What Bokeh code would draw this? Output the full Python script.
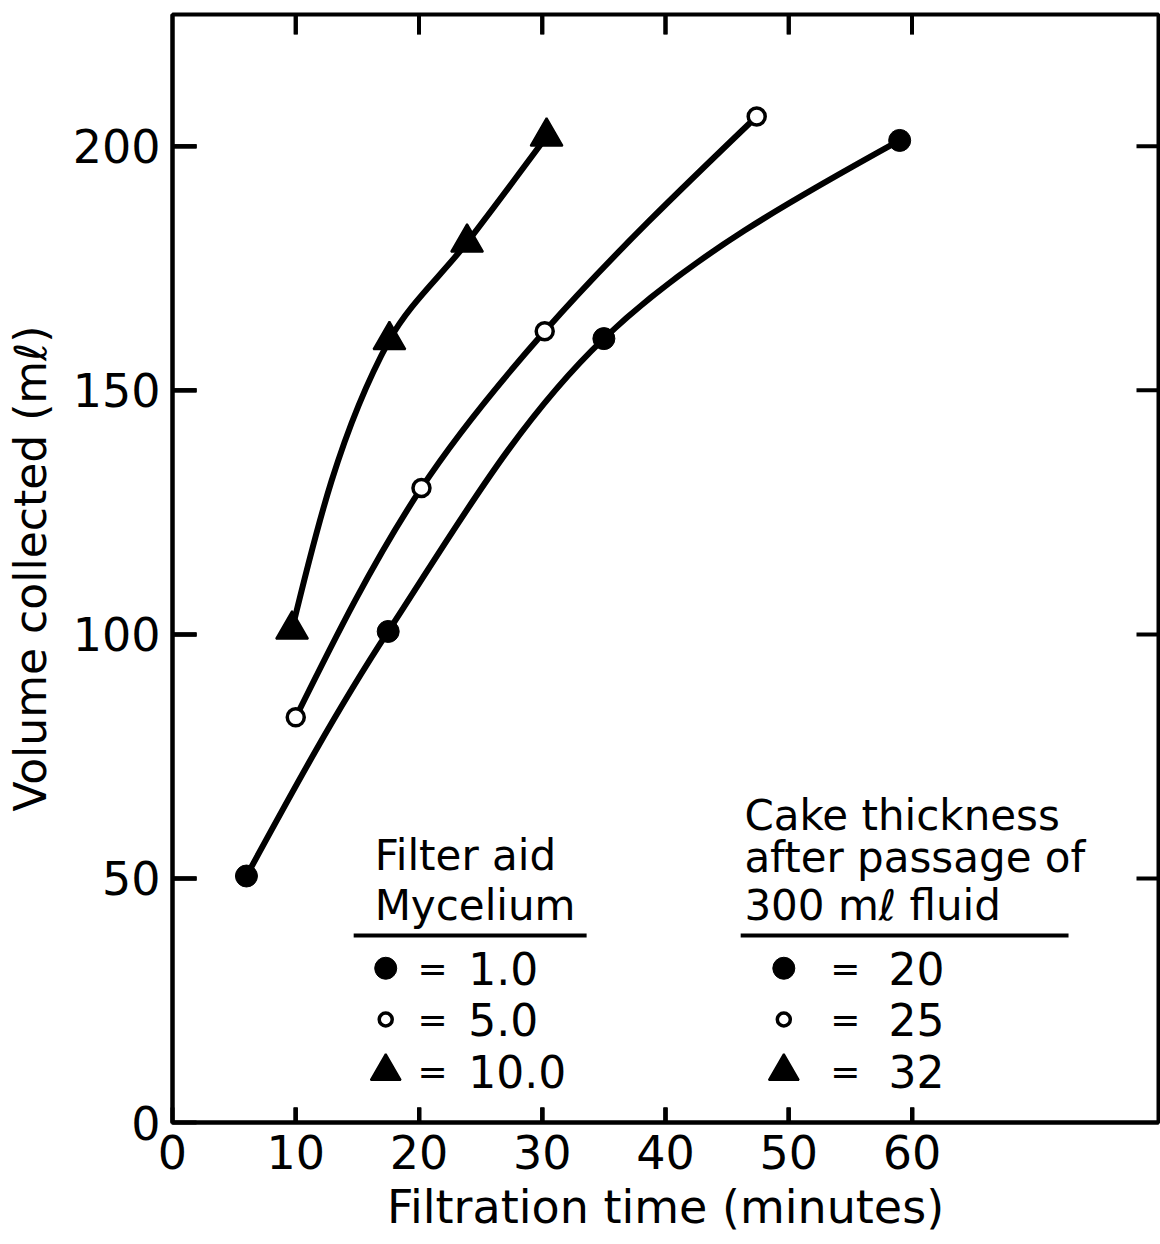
import math
from bokeh.plotting import figure
from bokeh.models import LinearAxis, FixedTicker, Range1d, ColumnDataSource
from bokeh.core.properties import value
from bokeh.embed import file_html
from bokeh.resources import INLINE

# ---------------- data ----------------
time_m1 = [6.0, 17.5, 35.0, 59.0]
vol_m1 = [50.5, 100.6, 160.6, 201.2]
time_m5 = [10.0, 20.2, 30.2, 47.4]
vol_m5 = [83.0, 130.0, 162.1, 206.1]
time_m10 = [9.7, 17.6, 23.9, 30.35]
vol_m10 = [101.0, 160.3, 180.3, 202.0]

x_ticks = [0, 10, 20, 30, 40, 50, 60]
y_ticks = [0, 50, 100, 150, 200]
inner_x_ticks = [10, 20, 30, 40, 50, 60]
inner_y_ticks = [50, 100, 150, 200]

left_title = ["Filter aid", "Mycelium"]
left_values = ["1.0", "5.0", "10.0"]
right_title = ["Cake thickness", "after passage of", "300 m\u2113 fluid"]
right_values = ["20", "25", "32"]

FONT = "DejaVu Sans"
X_MAX, Y_MAX = 80, 227
SX = 12.325  # approx. px per minute on screen
SY = 4.925   # approx. px per ml on screen

p = figure(width=1160, height=1236, x_range=Range1d(0, X_MAX), y_range=Range1d(0, Y_MAX),
           output_backend="svg", toolbar_location=None,
           x_axis_location=None, y_axis_location=None,
           min_border_left=172, min_border_top=14, min_border_bottom=104, min_border_right=2)
p.grid.visible = False
p.outline_line_color = "black"
p.outline_line_width = 4


def style_axis(ax, ticks, tick_in):
    ax.ticker = FixedTicker(ticks=ticks)
    ax.axis_line_width = 4
    ax.axis_line_color = "black"
    ax.major_tick_in = tick_in
    ax.major_tick_out = 1
    ax.major_tick_line_color = "black"
    ax.major_tick_line_width = 4
    ax.minor_tick_line_color = None
    ax.major_label_text_font = FONT
    ax.major_label_text_color = "black"
    ax.major_label_text_font_size = "46px"
    ax.major_label_standoff = 11
    ax.axis_label_text_font = FONT
    ax.axis_label_text_font_style = "normal"
    ax.axis_label_text_color = "black"


bottom = LinearAxis(axis_label="Filtration time (minutes)")
style_axis(bottom, x_ticks, 15)
bottom.axis_label_text_font_size = "46px"
bottom.axis_label_standoff = 8
p.add_layout(bottom, "below")

left = LinearAxis(axis_label="Volume collected (m\u2113)")
style_axis(left, y_ticks, 24)
left.axis_label_text_font_size = "44px"
left.axis_label_standoff = 14
p.add_layout(left, "left")

# inward ticks on all four frame edges, drawn as small filled bars (screen-sized)
nx, ny = len(inner_x_ticks), len(inner_y_ticks)
bar = dict(fill_color="black", line_color=None)
p.rect(x=inner_x_ticks, y=[Y_MAX - 10 / SY] * nx, width=4, height=20,
       width_units="screen", height_units="screen", **bar)
p.rect(x=inner_x_ticks, y=[7.5 / SY] * nx, width=4, height=15,
       width_units="screen", height_units="screen", **bar)
p.rect(x=[12 / SX] * ny, y=inner_y_ticks, width=24, height=4,
       width_units="screen", height_units="screen", **bar)
p.rect(x=[X_MAX - 11 / SX] * ny, y=inner_y_ticks, width=22, height=4,
       width_units="screen", height_units="screen", **bar)
# the same ticks as short lines as well
tick_style = dict(line_color="black", line_width=4)
p.multi_line(xs=[[t, t] for t in inner_x_ticks],
             ys=[[Y_MAX - 0.15, Y_MAX - 20 / SY] for t in inner_x_ticks], **tick_style)
p.multi_line(xs=[[t, t] for t in inner_x_ticks],
             ys=[[0.15, 15 / SY] for t in inner_x_ticks], **tick_style)
p.multi_line(xs=[[0.05, 24 / SX] for t in inner_y_ticks],
             ys=[[t, t] for t in inner_y_ticks], **tick_style)


def smooth_bezier(xs, ys):
    P = [(x * SX, y * SY) for x, y in zip(xs, ys)]
    n = len(P)

    def norm(v):
        l = math.hypot(v[0], v[1]) or 1.0
        return (v[0] / l, v[1] / l)

    L = [math.hypot(P[i + 1][0] - P[i][0], P[i + 1][1] - P[i][1]) for i in range(n - 1)]
    U = [norm((P[i + 1][0] - P[i][0], P[i + 1][1] - P[i][1])) for i in range(n - 1)]
    T = [None] * n
    for i in range(1, n - 1):
        T[i] = norm((U[i - 1][0] + U[i][0], U[i - 1][1] + U[i][1]))
    for end, u, t1 in [(0, U[0], T[1] if n > 2 else U[0]), (n - 1, U[-1], T[-2] if n > 2 else U[-1])]:
        d = u[0] * t1[0] + u[1] * t1[1]
        r = (2 * d * u[0] - t1[0], 2 * d * u[1] - t1[1])
        T[end] = norm((0.5 * (r[0] + u[0]), 0.5 * (r[1] + u[1])))

    src = dict(x0=[], y0=[], x1=[], y1=[], cx0=[], cy0=[], cx1=[], cy1=[])
    for i in range(n - 1):
        a, b = P[i], P[i + 1]
        h = L[i] / 3.0
        src["x0"].append(a[0] / SX); src["y0"].append(a[1] / SY)
        src["x1"].append(b[0] / SX); src["y1"].append(b[1] / SY)
        src["cx0"].append((a[0] + T[i][0] * h) / SX)
        src["cy0"].append((a[1] + T[i][1] * h) / SY)
        src["cx1"].append((b[0] - T[i + 1][0] * h) / SX)
        src["cy1"].append((b[1] - T[i + 1][1] * h) / SY)
    return ColumnDataSource(src)


for xs, ys in [(time_m1, vol_m1), (time_m5, vol_m5), (time_m10, vol_m10)]:
    p.bezier(x0="x0", y0="y0", x1="x1", y1="y1", cx0="cx0", cy0="cy0", cx1="cx1", cy1="cy1",
             source=smooth_bezier(xs, ys), line_color="black", line_width=6)

p.scatter(time_m1, vol_m1, marker="circle", size=22, fill_color="black", line_color="black")
p.scatter(time_m5, vol_m5, marker="circle", size=17, fill_color="white", line_color="black", line_width=3.5)
p.scatter(time_m10, vol_m10, marker="triangle", size=32, fill_color="black", line_color="black", line_width=2)

# ---------------- legend blocks (layout constants, data units) ----------------
row_y = [31.6, 21.1, 10.5]
for txt, yy in zip(left_title, [54.8, 44.4]):
    p.text(x=[16.4], y=[yy], text=[txt], text_font=value(FONT), text_font_size="42px",
           text_baseline="middle", text_align="left", text_color="black")
p.line([14.7, 33.6], [38.3, 38.3], line_color="black", line_width=4)
for txt, yy in zip(right_title, [62.9, 54.2, 44.4]):
    p.text(x=[46.4], y=[yy], text=[txt], text_font=value(FONT), text_font_size="42px",
           text_baseline="middle", text_align="left", text_color="black")
p.line([46.1, 72.7], [38.3, 38.3], line_color="black", line_width=4)

for mx, eqx, vx, vals in [(17.3, 21.1, 24.0, left_values), (49.6, 54.6, 58.1, right_values)]:
    p.scatter([mx], [row_y[0]], marker="circle", size=22, fill_color="black", line_color="black")
    p.scatter([mx], [row_y[1]], marker="circle", size=13, fill_color="white", line_color="black", line_width=3.5)
    p.scatter([mx], [row_y[2]], marker="triangle", size=30, fill_color="black", line_color="black", line_width=2)
    for yy, v in zip(row_y, vals):
        p.text(x=[eqx], y=[yy], text=["="], text_font=value(FONT), text_font_size="36px",
               text_baseline="middle", text_align="center", text_color="black")
        p.text(x=[vx], y=[yy], text=[v], text_font=value(FONT), text_font_size="44px",
               text_baseline="middle", text_align="left", text_color="black")

open("out.html", "w").write(file_html(p, INLINE))
